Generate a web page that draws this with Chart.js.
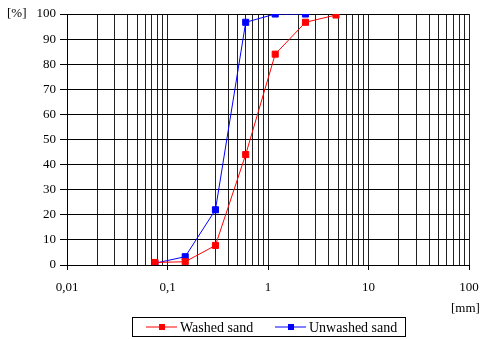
<!DOCTYPE html>
<html>
<head>
<meta charset="utf-8">
<script src="https://cdn.jsdelivr.net/npm/chart.js@4/dist/chart.umd.min.js"></script>
<style>
  html, body { margin: 0; padding: 0; background: #fff; }
  #wrap { width: 480px; height: 339px; }
</style>
</head>
<body>
<div id="wrap"><canvas id="gradingChart"></canvas></div>
<script>
// sieve sizes [mm] and passing [%]
const washedSize = [0.075, 0.15, 0.3, 0.6, 1.18, 2.36, 4.75];
const washedPass = [1, 1.3, 7.8, 44, 84, 96.7, 99.6];
const unwashedSize = [0.075, 0.15, 0.3, 0.6, 1.18, 2.36];
const unwashedPass = [0.7, 3.3, 22, 96.7, 100, 100];
const seriesNames = ["Washed sand", "Unwashed sand"];
const seriesColors = ["#ff0000", "#0000ff"];
const xTickLabels = {0.01: "0,01", 0.1: "0,1", 1: "1", 10: "10", 100: "100"};

const serif = "'Liberation Serif', 'Times New Roman', serif";

function toPoints(xs, ys){
    return xs.map((x, i) => ({x: x, y: ys[i]}));
}

// extra texts + boxed legend
const decorations = {
    id: "decorations",
    afterDraw(chart){
        const ctx = chart.ctx;
        ctx.save();
        ctx.fillStyle = "#000";
        ctx.font = "13px " + serif;
        ctx.textBaseline = "middle";
        ctx.textAlign = "left";
        ctx.fillText("[%]", 7, 14);
        ctx.fillText("[mm]", 451, 309);

        // legend
        const boxX = 132.5, boxY = 317.5, boxW = 273, boxH = 19;
        ctx.strokeStyle = "#000";
        ctx.lineWidth = 1;
        ctx.strokeRect(boxX, boxY, boxW, boxH);
        ctx.font = "14px " + serif;
        const itemX = [146, 275];
        chart.data.datasets.forEach((ds, i) => {
            const x0 = itemX[i], cy = boxY + boxH / 2;
            ctx.strokeStyle = ds.borderColor;
            ctx.beginPath();
            ctx.moveTo(x0, cy);
            ctx.lineTo(x0 + 31, cy);
            ctx.stroke();
            ctx.fillStyle = ds.backgroundColor;
            ctx.fillRect(x0 + 13, cy - 3, 6, 6);
            ctx.fillStyle = "#000";
            ctx.fillText(ds.label, x0 + 34, cy + 1);
        });
        ctx.restore();
    }
};

new Chart("gradingChart", {
    type: "line",
    data: {
        datasets: [
            {
                label: seriesNames[0],
                data: toPoints(washedSize, washedPass),
                borderColor: seriesColors[0],
                backgroundColor: seriesColors[0],
                borderWidth: 1,
                pointStyle: "rect",
                pointRadius: 4.3,
                pointHoverRadius: 4.3,
                tension: 0
            },
            {
                label: seriesNames[1],
                data: toPoints(unwashedSize, unwashedPass),
                borderColor: seriesColors[1],
                backgroundColor: seriesColors[1],
                borderWidth: 1,
                pointStyle: "rect",
                pointRadius: 4.3,
                pointHoverRadius: 4.3,
                tension: 0
            }
        ]
    },
    options: {
        responsive: true,
        maintainAspectRatio: false,
        animation: false,
        layout: { padding: { left: 0, top: 14, right: 11, bottom: 0 } },
        plugins: {
            legend: { display: false },
            tooltip: { enabled: false }
        },
        scales: {
            x: {
                type: "logarithmic",
                min: 0.01,
                max: 100,
                afterBuildTicks(scale){
                    const ticks = [];
                    for (let p = -2; p <= 1; p++) {
                        for (let m = 1; m <= 9; m++) {
                            ticks.push({value: +(m * Math.pow(10, p)).toPrecision(3)});
                        }
                    }
                    ticks.push({value: 100});
                    scale.ticks = ticks;
                },
                afterFit(scale){
                    scale.height = 339 - 265;
                    scale.paddingLeft = 0;
                    scale.paddingRight = 0;
                },
                border: { color: "#000", width: 1 },
                grid: {
                    color: "#222",
                    lineWidth: 1,
                    tickLength: 5,
                    tickColor: (c) => (c.tick && xTickLabels[c.tick.value] ? "#000" : "rgba(0,0,0,0)")
                },
                ticks: {
                    autoSkip: false,
                    maxRotation: 0,
                    padding: 10,
                    color: "#000",
                    font: { family: serif, size: 13 },
                    callback: (v) => xTickLabels[v] || ""
                }
            },
            y: {
                min: 0,
                max: 100,
                afterFit(scale){
                    scale.width = 67;
                    scale.paddingTop = 0;
                    scale.paddingBottom = 0;
                },
                border: { color: "#000", width: 1 },
                grid: { color: "#000", lineWidth: 1, tickLength: 7 },
                ticks: {
                    stepSize: 10,
                    padding: 4,
                    color: "#000",
                    font: { family: serif, size: 13 }
                }
            }
        }
    },
    plugins: [decorations]
});
</script>
</body>
</html>
